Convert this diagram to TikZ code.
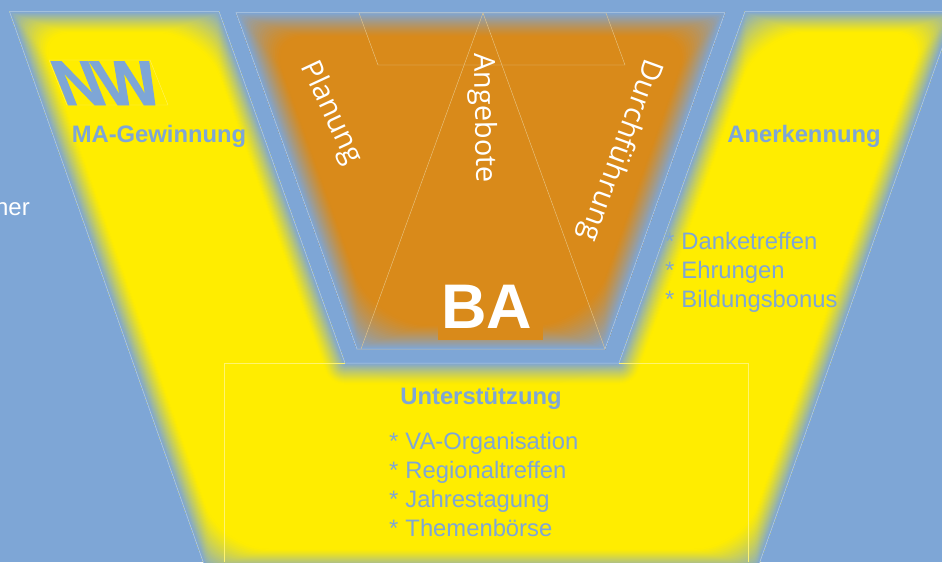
\documentclass[tikz,border=0pt]{standalone}
\usepackage{fontspec}
\setmainfont{Liberation Sans}
\newfontfamily\lightfont{Open Sans}
\newfontfamily\nwfont[BoldFeatures={FakeBold=1.5}]{Liberation Sans}
\definecolor{bgblue}{HTML}{7EA6D6}
\definecolor{ylw}{HTML}{FFED00}
\definecolor{org}{HTML}{D98A1A}
\definecolor{edgeline}{HTML}{B4CDE8}
\definecolor{thinline}{HTML}{E8C88A}
\definecolor{boxline}{HTML}{FFF46E}
\newcommand{\softshape}[3]{%
  \begin{scope}
    \clip #1;
    \fill[#2] #1;
    \foreach \dd in {#3,...,1}{
      \pgfmathsetmacro\mixval{100*(1-(\dd-0.5)/#3)^1.2}
      \pgfmathsetmacro\rr{3*\dd}
      \draw[color=bgblue!\mixval!#2,line width=2*\dd pt,rounded corners=\rr pt,line join=round] #1;
      \draw[color=bgblue!\mixval!#2,line width=2*\dd pt,line join=round] #1;
    }
  \end{scope}
  \draw[edgeline,line width=.5pt] #1;
}
\tikzset{
  heading/.style={font=\bfseries\fontsize{23.8}{26}\selectfont,text=bgblue,inner sep=0pt},
  listing/.style={font=\fontsize{23.8}{29}\selectfont,text=bgblue,inner sep=0pt,align=left,anchor=north west},
  verticaltext/.style={font=\lightfont\fontsize{29}{32}\selectfont,text=white,inner sep=0pt}
}
\begin{document}
\begin{tikzpicture}[x=1pt,y=-1pt]
\useasboundingbox (0,0) rectangle (942,562);
\clip (0,0) rectangle (942,562);
\fill[bgblue] (0,0) rectangle (942,562);
% yellow U
\softshape{(9.5,11.5) -- (219,11.5) -- (345,363) -- (619,363) -- (745,11.5) -- (955,11.5) -- (757,570) -- (206,570) -- cycle}{ylw}{21}
% orange trapezoid
\softshape{(236,12.5) -- (725,12.5) -- (605,349) -- (357,349) -- cycle}{org}{24}
\fill[org] (438,280) rectangle (543,340);
% thin lines
\draw[thinline,line width=.4pt] (483,13) -- (361,349);
\draw[thinline,line width=.4pt] (483,13) -- (605,349);
\draw[thinline,line width=.4pt] (359,13) -- (606,13) -- (625,65) -- (378,65) -- cycle;
\draw[boxline,line width=.3pt] (224,562) -- (224,363) -- (345,363);
\draw[boxline,line width=.3pt] (619,363) -- (748,363) -- (748,562);
\draw[boxline,line width=.3pt] (49,60) -- (150,60) -- (168,105) -- (67,105) -- cycle;
% labels
\node[inner sep=0pt,text=bgblue,font=\nwfont\bfseries\fontsize{63}{63}\selectfont,anchor=base west,xslant=-0.4] (nw) at (64,105) {N\kern-3pt W};
\node[heading] (gew) at (159,136) {MA-Gewinnung};
\node[heading] (ane) at (804,136) {Anerkennung};
\node[heading] (unt) at (481,399) {Unterstützung};
\node[listing] (l1) at (665,232) {*\kern7pt Danketreffen\\*\kern7pt Ehrungen\\*\kern7pt Bildungsbonus};
\node[listing] (l2) at (389,432) {*\kern7pt VA-Organisation\\*\kern7pt Regionaltreffen\\*\kern7pt Jahrestagung\\*\kern7pt Themenbörse};
\node[font=\fontsize{24}{26}\selectfont,text=white,inner sep=0pt,anchor=base east] (ner) at (30,215) {ner};
\node[font=\bfseries\fontsize{63}{63}\selectfont,text=white,inner sep=0pt,anchor=base] (ba) at (486.5,328) {BA};
\node[verticaltext,rotate=-65] (pl) at (331,113) {Planung};
\node[verticaltext,rotate=-89] (an) at (483,118) {Angebote};
\node[verticaltext,rotate=-110] (du) at (620,150) {Durchführung};
\end{tikzpicture}
\end{document}
